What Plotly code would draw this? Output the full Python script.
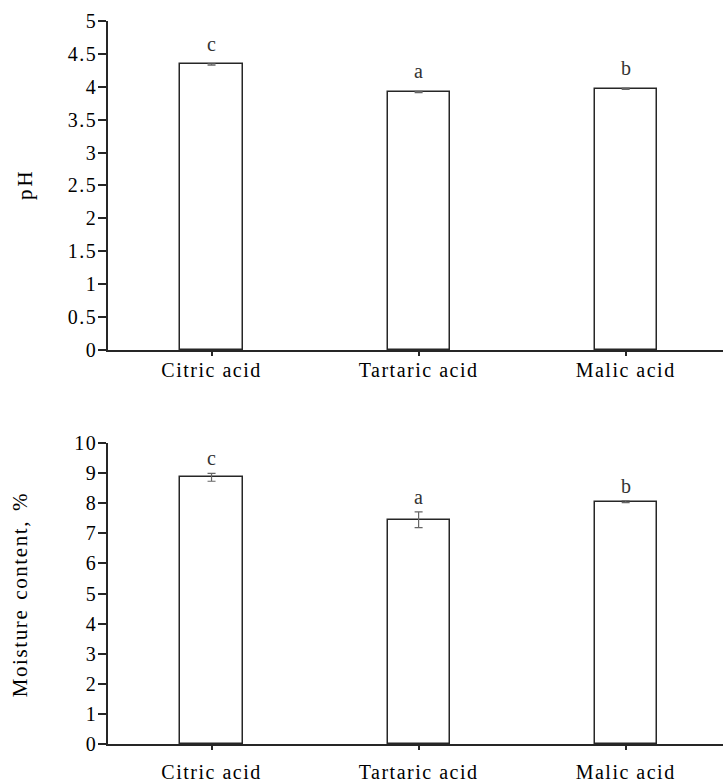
import plotly.graph_objects as go

categories = ["Citric acid", "Tartaric acid", "Malic acid"]
ph_values = [4.34, 3.92, 3.97]
ph_err = [0.01, 0.01, 0.01]
ph_letters = ["c", "a", "b"]
moisture_values = [8.86, 7.45, 8.05]
moisture_err = [0.13, 0.26, 0.03]
moisture_letters = ["c", "a", "b"]

FONT = "Liberation Serif"
LINE = "#262626"

fig = go.Figure()
fig.add_trace(go.Bar(
    x=categories, y=ph_values, width=0.30,
    marker=dict(color="white", line=dict(color=LINE, width=1.5)),
    error_y=dict(type="data", array=ph_err, color="#666", thickness=1.2, width=4),
    xaxis="x", yaxis="y", showlegend=False))
fig.add_trace(go.Bar(
    x=categories, y=moisture_values, width=0.30,
    marker=dict(color="white", line=dict(color=LINE, width=1.5)),
    error_y=dict(type="data", array=moisture_err, color="#666", thickness=1.2, width=4),
    xaxis="x2", yaxis="y2", showlegend=False))

annotations = []
for c, v, e, t in zip(categories, ph_values, ph_err, ph_letters):
    annotations.append(dict(x=c, y=v + e, xref="x", yref="y", text=t, showarrow=False,
                            yanchor="bottom", yshift=7, font=dict(family=FONT, size=20, color="#333")))
for c, v, e, t in zip(categories, moisture_values, moisture_err, moisture_letters):
    annotations.append(dict(x=c, y=v + e, xref="x2", yref="y2", text=t, showarrow=False,
                            yanchor="bottom", yshift=2, font=dict(family=FONT, size=20, color="#333")))
annotations.append(dict(x=0, y=0.7746, xref="paper", yref="paper", text="pH", showarrow=False,
                        textangle=-90, xanchor="center", yanchor="middle", xshift=-83,
                        font=dict(family=FONT, size=21, color="black")))
annotations.append(dict(x=0, y=0.206, xref="paper", yref="paper",
                        text="Moisture content, %",
                        showarrow=False, textangle=-90, xanchor="center", yanchor="middle",
                        xshift=-88, font=dict(family=FONT, size=21, color="black")))

xcommon = dict(type="category", range=[-0.5, 2.47], showline=True, linecolor=LINE, linewidth=1.5,
               ticks="outside", ticklen=4, tickwidth=1.5, tickcolor=LINE, showgrid=False,
               zeroline=False, automargin=False, tickfont=dict(family=FONT, size=20, color="black"))
ycommon = dict(showline=True, linecolor=LINE, linewidth=1.5, ticks="outside", ticklen=8,
               tickwidth=1.5, tickcolor=LINE, showgrid=False, zeroline=False, automargin=False,
               ticklabelstandoff=-3, tickfont=dict(family=FONT, size=20, color="black"))

fig.update_layout(
    width=723, height=783,
    margin=dict(l=108, r=0, t=21, b=39),
    paper_bgcolor="white", plot_bgcolor="white",
    xaxis=dict(xcommon, anchor="y", domain=[0, 1], ticklabelstandoff=-3),
    yaxis=dict(ycommon, anchor="x", domain=[0.545, 1.0], range=[0, 5], dtick=0.5, tick0=0),
    xaxis2=dict(xcommon, anchor="y2", domain=[0, 1], ticklabelstandoff=5),
    yaxis2=dict(ycommon, anchor="x2", domain=[0, 0.4163], range=[0, 10], dtick=1, tick0=0),
    annotations=annotations,
    bargap=0,
)

# page without body margin; widen the letter spacing of the serif texts, as in the reference
post = """
(function(){
  document.body.style.margin = '0';
  document.body.style.padding = '0';
  document.documentElement.style.margin = '0';
  function spread(){
    var gd = document.getElementById('{plot_id}');
    if (!gd) return;
    gd.querySelectorAll('.xaxislayer-above text, .yaxislayer-above text').forEach(function(t){
      t.style.letterSpacing = '1.5px';
    });
    gd.querySelectorAll('.annotation-text').forEach(function(t){
      var s = t.textContent;
      if (s.length > 2) { t.style.letterSpacing = '1.6px'; t.style.wordSpacing = '2px'; }
      else if (s.length == 2) { t.style.letterSpacing = '3px'; }
    });
  }
  spread();
  setTimeout(spread, 0);
  setTimeout(spread, 200);
  setTimeout(spread, 800);
})();
"""

fig.write_html("out.html", post_script=post, config={"displayModeBar": False})
